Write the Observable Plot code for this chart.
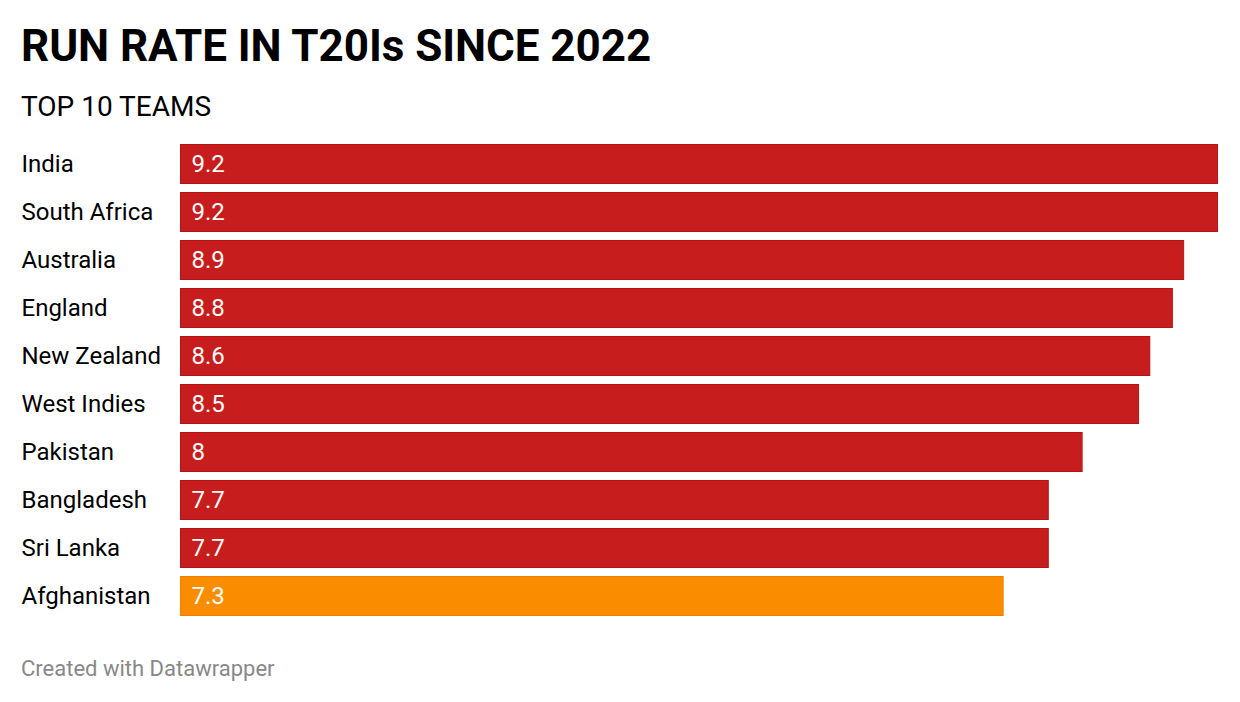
<!DOCTYPE html>
<html>
<head>
<meta charset="utf-8">
<script src="https://cdn.jsdelivr.net/npm/d3@7"></script>
<script src="https://cdn.jsdelivr.net/npm/@observablehq/plot@0.6"></script>
<style>
  html, body { margin: 0; padding: 0; background: #fff; }
  body { width: 1240px; height: 702px; position: relative; font-family: Roboto, sans-serif; overflow: hidden; }
  .t { position: absolute; line-height: 1; white-space: nowrap; }
  #title { left: 21px; top: 24px; font-size: 44px; font-weight: 700; color: #000; letter-spacing: -0.05px; }
  #subtitle { left: 21px; top: 93px; font-size: 28px; font-weight: 400; color: #000; }
  #chart { position: absolute; left: 0; top: 140px; }
  #caption { left: 21px; top: 658px; font-size: 22px; color: #888; }
</style>
</head>
<body>
<div id="title" class="t">RUN RATE IN T20Is SINCE 2022</div>
<div id="subtitle" class="t">TOP 10 TEAMS</div>
<div id="chart"></div>
<div id="caption" class="t">Created with Datawrapper</div>
<script>
const teams = ["India", "South Africa", "Australia", "England", "New Zealand", "West Indies", "Pakistan", "Bangladesh", "Sri Lanka", "Afghanistan"];
const rates = [9.2, 9.2, 8.9, 8.8, 8.6, 8.5, 8, 7.7, 7.7, 7.3];
const highlighted = ["Afghanistan"];

const data = teams.map((team, i) => ({team, rate: rates[i]}));
const colorOf = d => highlighted.includes(d.team) ? "#fa8c00" : "#c71e1d";
const strokeOf = d => highlighted.includes(d.team) ? "#f07f00" : "#b51414";

const chart = Plot.plot({
  width: 1240,
  height: 480,
  marginLeft: 180,
  marginRight: 22,
  marginTop: 0,
  marginBottom: 0,
  style: {fontFamily: "Roboto, sans-serif", background: "transparent"},
  x: {domain: [0, 9.2], axis: null},
  y: {domain: teams, axis: null, paddingInner: 8/48, paddingOuter: 4/48},
  marks: [
    Plot.barX(data, {x: "rate", y: "team", fill: colorOf, stroke: strokeOf, strokeWidth: 1, inset: 0.5}),
    Plot.text(data, {y: "team", text: "team", frameAnchor: "left", dx: -159, textAnchor: "start", fontSize: 24, fill: "#000"}),
    Plot.text(data, {x: 0, y: "team", text: d => String(d.rate), dx: 11, textAnchor: "start", fontSize: 24, fill: "#fff"})
  ]
});
document.getElementById("chart").appendChild(chart);
</script>
</body>
</html>
